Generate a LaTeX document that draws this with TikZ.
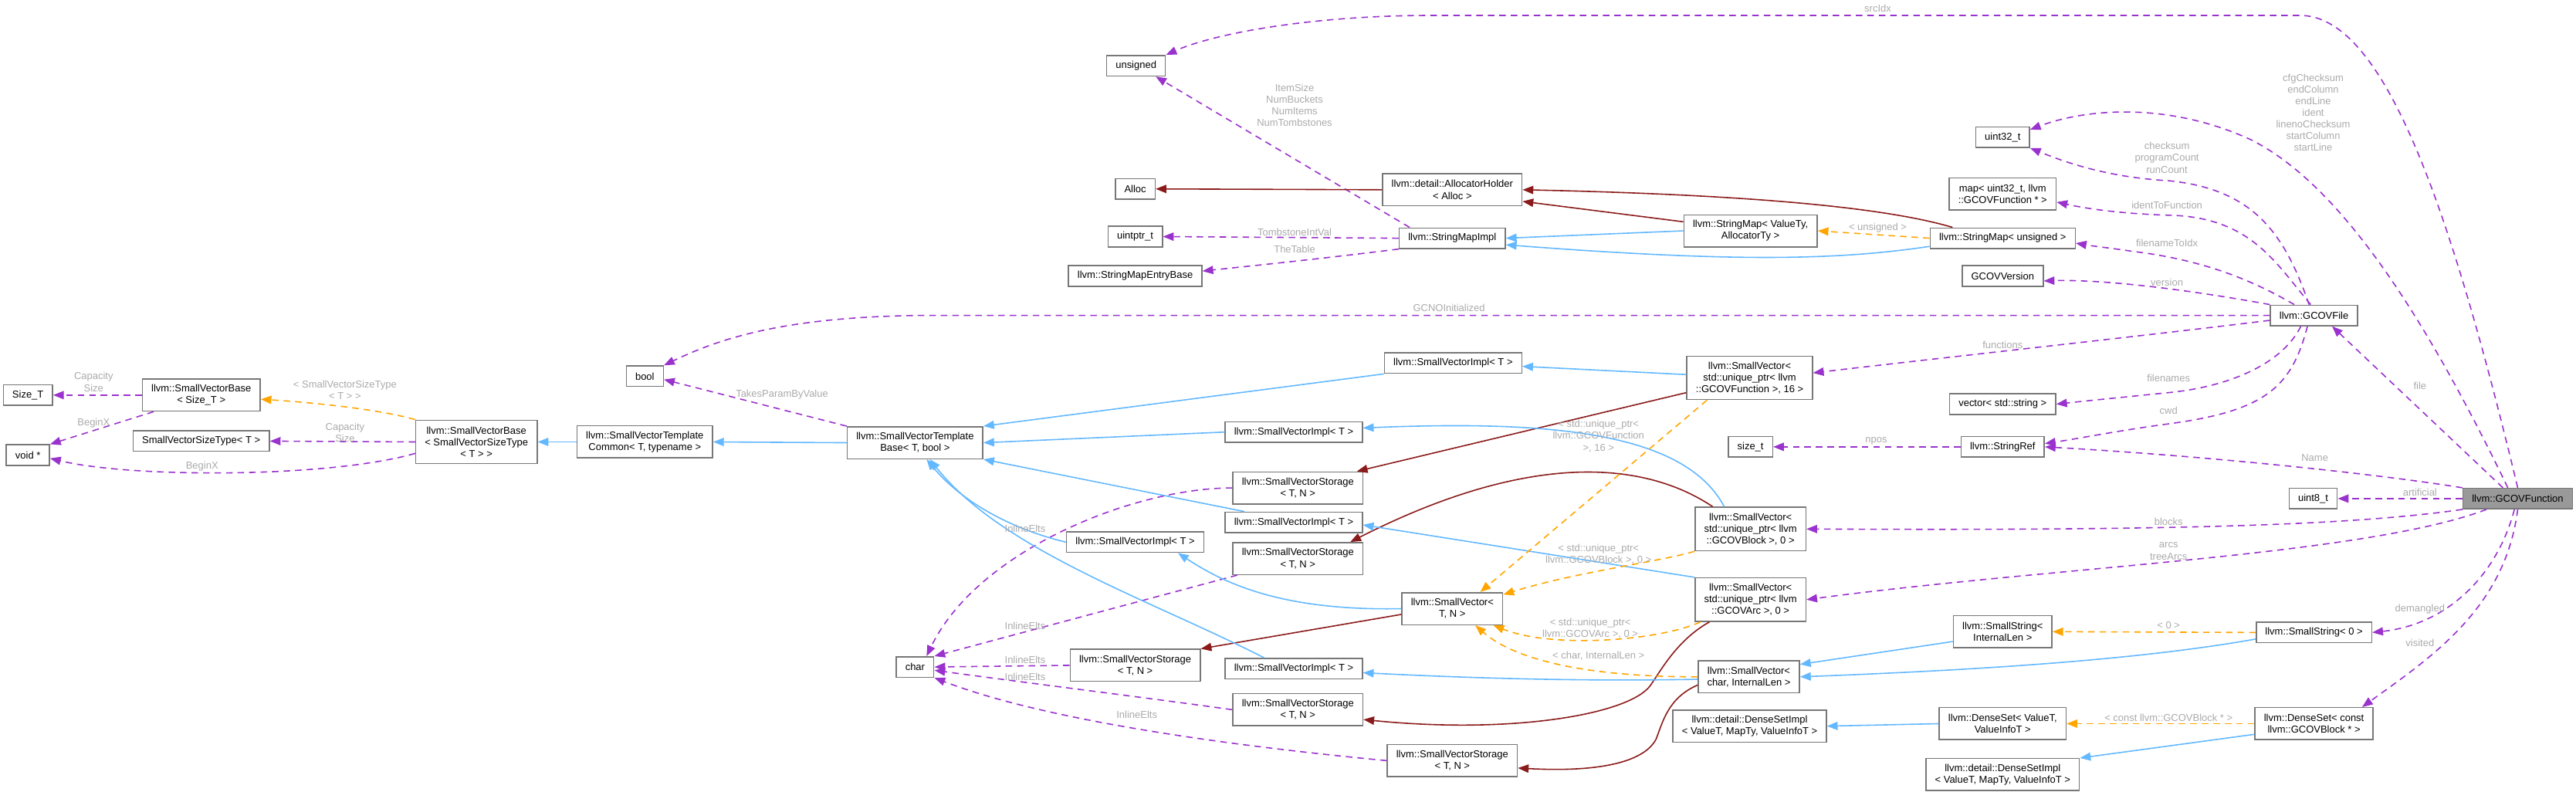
\documentclass[tikz,border=0pt]{standalone}
\usepackage{fontspec}
\newfontfamily\dxfont{Liberation Sans}
\usetikzlibrary{arrows.meta}
\definecolor{usecol}{HTML}{9A32CD}
\definecolor{inhcol}{HTML}{63B8FF}
\definecolor{privcol}{HTML}{8B1A1A}
\definecolor{tmplcol}{HTML}{FFA500}
\definecolor{boxcol}{HTML}{777777}
\definecolor{focuscol}{HTML}{999999}
\definecolor{lblcol}{HTML}{AAAAAA}
\tikzset{cls/.style = {draw=boxcol, fill=white, line width=0.7pt,
                       font=\dxfont\fontsize{6.1}{7.1}\selectfont, align=center,
                       inner xsep=5.5pt, inner ysep=1pt, minimum height=12.5pt}}
\tikzset{cls2/.style = {cls, minimum height=19.5pt}}
\tikzset{cls3/.style = {cls, minimum height=26.5pt}}
\tikzset{lbl/.style = {font=\dxfont\fontsize{6.1}{7.1}\selectfont, text=lblcol,
                       align=center, inner sep=0pt}}
\tikzset{tip/.style = {-{Triangle[length=6.5pt,width=5pt]}}}
\tikzset{use/.style = {usecol, line width=0.75pt, dash pattern=on 4pt off 3pt, tip}}
\tikzset{inh/.style = {inhcol, line width=0.75pt, tip}}
\tikzset{priv/.style = {privcol, line width=0.75pt, tip}}
\tikzset{tmpl/.style = {tmplcol, line width=0.75pt, dash pattern=on 4pt off 3pt, tip}}

\begin{document}
\begin{tikzpicture}[x=1pt, y=-1pt]
  \useasboundingbox (0,0) rectangle (1568,482);

  \node[cls, fill=focuscol] (gcovfunc) at (1532.5,303.5) {llvm::GCOVFunction};
  \node[cls] (gcovfile) at (1408.5,192) {llvm::GCOVFile};
  \node[cls] (unsig) at (691.5,40) {unsigned};
  \node[cls] (alloc) at (691,115) {Alloc};
  \node[cls] (uintptr) at (691,144) {uintptr\_t};
  \node[cls] (smentry) at (691,168) {llvm::StringMapEntryBase};
  \node[cls2] (allocholder) at (884,115.5) {llvm::detail::AllocatorHolder\\< Alloc >};
  \node[cls] (smimpl) at (884,145) {llvm::StringMapImpl};
  \node[cls2] (smvt) at (1065.5,140.5) {llvm::StringMap< ValueTy,\\AllocatorTy >};
  \node[cls] (smuns) at (1219,145) {llvm::StringMap< unsigned >};
  \node[cls] (uint32) at (1219,83.5) {uint32\_t};
  \node[cls2] (mapid) at (1219,118) {map< uint32\_t, llvm\\::GCOVFunction * >};
  \node[cls] (gcovver) at (1219,168) {GCOVVersion};

  \node[cls] (sizeT) at (17,240.5) {Size\_T};
  \node[cls2] (svbsize) at (122.5,240.5) {llvm::SmallVectorBase\\< Size\_T >};
  \node[cls] (voidp) at (17,277) {void *};
  \node[cls] (svsizetype) at (122.5,268.5) {SmallVectorSizeType< T >};
  \node[cls3] (svbsvst) at (290,269) {llvm::SmallVectorBase\\< SmallVectorSizeType\\< T > >};
  \node[cls2] (svtcommon) at (392.5,269) {llvm::SmallVectorTemplate\\Common< T, typename >};
  \node[cls] (boolt) at (392.5,229) {bool};
  \node[cls2] (svtbase) at (557,269.5) {llvm::SmallVectorTemplate\\Base< T, bool >};
  \node[cls] (chart) at (557,406) {char};

  \node[cls] (implA) at (884.5,221) {llvm::SmallVectorImpl< T >};
  \node[cls] (implB) at (787.5,263) {llvm::SmallVectorImpl< T >};
  \node[cls2] (storA) at (790,297) {llvm::SmallVectorStorage\\< T, N >};
  \node[cls] (implC) at (787.5,318) {llvm::SmallVectorImpl< T >};
  \node[cls2] (storB) at (790,340) {llvm::SmallVectorStorage\\< T, N >};
  \node[cls] (implD) at (691,330) {llvm::SmallVectorImpl< T >};
  \node[cls2] (svTN) at (884,370.5) {llvm::SmallVector<\\T, N >};
  \node[cls2] (storC) at (691,405) {llvm::SmallVectorStorage\\< T, N >};
  \node[cls] (implE) at (787.5,407) {llvm::SmallVectorImpl< T >};
  \node[cls2] (storD) at (790,432) {llvm::SmallVectorStorage\\< T, N >};
  \node[cls2] (storE) at (884,463) {llvm::SmallVectorStorage\\< T, N >};

  \node[cls3] (svfunc) at (1065,230) {llvm::SmallVector<\\std::unique\_ptr< llvm\\::GCOVFunction >, 16 >};
  \node[cls] (vecstr) at (1219,246) {vector< std::string >};
  \node[cls] (sizet) at (1065.5,272) {size\_t};
  \node[cls] (strref) at (1219,272) {llvm::StringRef};
  \node[cls] (uint8) at (1408,303.5) {uint8\_t};
  \node[cls3] (svblock) at (1065.5,322) {llvm::SmallVector<\\std::unique\_ptr< llvm\\::GCOVBlock >, 0 >};
  \node[cls3] (svarc) at (1065.5,365) {llvm::SmallVector<\\std::unique\_ptr< llvm\\::GCOVArc >, 0 >};
  \node[cls2] (ssil) at (1219,384.5) {llvm::SmallString<\\InternalLen >};
  \node[cls] (ss0) at (1408.5,385) {llvm::SmallString< 0 >};
  \node[cls2] (svchar) at (1064.5,412) {llvm::SmallVector<\\char, InternalLen >};
  \node[cls2] (dsimplA) at (1065,442) {llvm::detail::DenseSetImpl\\< ValueT, MapTy, ValueInfoT >};
  \node[cls2] (dsval) at (1219,440.5) {llvm::DenseSet< ValueT,\\ValueInfoT >};
  \node[cls2] (dsconst) at (1408.5,440.5) {llvm::DenseSet< const\\llvm::GCOVBlock * >};
  \node[cls2] (dsimplB) at (1219,471.5) {llvm::detail::DenseSetImpl\\< ValueT, MapTy, ValueInfoT >};

  \draw[use] (gcovfunc.north) .. controls (1490,120) and (1450,9.4) .. (1400,9.4) -- (871,9.4)
    .. controls (800,9.4) and (740,20) .. (unsig.north east);
  \draw[use] ([xshift=-6pt]gcovfunc.north) .. controls (1470,180) and (1420,110) .. (1370,85)
    .. controls (1320,62) and (1270,66) .. ([yshift=-2pt]uint32.north east);
  \draw[use] ([xshift=-3pt]gcovfile.north) .. controls (1390,140) and (1370,115) .. (1320,110)
    .. controls (1285,108) and (1260,100) .. (uint32.south east);
  \draw[use] ([xshift=-2pt]gcovfile.north) .. controls (1385,160) and (1370,132) .. (1320,131)
    .. controls (1290,130) and (1270,127) .. ([yshift=-5pt]mapid.east);
  \draw[use] ([xshift=-12pt]gcovfile.north) .. controls (1370,170) and (1340,158) .. (1298,153)
    .. controls (1285,151) and (1275,150) .. ([yshift=-3pt]smuns.east);
  \draw[use] (gcovfile.north west) .. controls (1330,176) and (1280,170) .. ([yshift=-3pt]gcovver.east);
  \draw[use] (gcovfile.west) -- (560,192) .. controls (480,193) and (440,205) .. (boolt.north east);
  \draw[use] ([yshift=-3pt]gcovfile.west) .. controls (1300,205) and (1180,218) .. ([yshift=3pt]svfunc.east);
  \draw[use] ([xshift=-8pt]gcovfile.south) .. controls (1390,220) and (1360,235) .. (1320,239)
    .. controls (1290,242) and (1270,244) .. (vecstr.east);
  \draw[use] ([xshift=-4pt]gcovfile.south) .. controls (1395,235) and (1380,250) .. (1320,258)
    .. controls (1290,262) and (1265,267) .. ([yshift=2pt]strref.east);
  \draw[use] ([xshift=-9pt]gcovfunc.north) -- ([xshift=11pt]gcovfile.south);
  \draw[use] (gcovfunc.north west) .. controls (1450,289) and (1350,278) .. (strref.east);
  \draw[use] (gcovfunc.west) -- (uint8.east);
  \draw[use] (gcovfunc.south west) .. controls (1430,320) and (1320,323) .. (svblock.east);
  \draw[use] ([xshift=-19pt]gcovfunc.south) .. controls (1440,338) and (1250,345) .. (svarc.east);
  \draw[use] ([xshift=-2pt]gcovfunc.south) .. controls (1520,350) and (1490,380) .. (ss0.east);
  \draw[use] (gcovfunc.south) .. controls (1525,370) and (1480,400) .. ([xshift=-7pt]dsconst.north east);
  \draw[use] (strref.west) -- (sizet.east);
  \draw[use] ([xshift=-26pt]smimpl.north) -- ([xshift=12pt]unsig.south);
  \draw[use] (smimpl.west) -- (uintptr.east);
  \draw[use] (smimpl.south west) .. controls (800,158) and (760,162) .. ([yshift=3pt]smentry.east);
  \draw[use] (svbsize.west) -- (sizeT.east);
  \draw[use] ([xshift=-29pt]svbsize.south) -- (voidp.north east);
  \draw[use] (svbsvst.west) -- (svsizetype.east);
  \draw[use] ([yshift=-7pt]svbsvst.west) .. controls (200,291) and (80,291) .. ([yshift=-2pt]voidp.east);
  \draw[use] (svtbase.north west) -- ([yshift=-2pt]boolt.east);
  \draw[use] (storA.west) .. controls (690,297) and (595,335) .. ([xshift=7pt]chart.north);
  \draw[use] ([xshift=3pt]storB.south west) -- (chart.north east);
  \draw[use] (storC.west) -- (chart.east);
  \draw[use] (storD.west) .. controls (700,425) and (620,415) .. ([yshift=-2pt]chart.east);
  \draw[use] (storE.west) .. controls (760,455) and (640,440) .. (chart.south east);

  \draw[priv] (allocholder.west) -- (alloc.east);
  \draw[priv] ([yshift=5.5pt]smvt.west) -- ([yshift=3pt]allocholder.south east);
  \draw[priv] ([xshift=14pt]smuns.north west) .. controls (1140,124) and (1040,118) .. (allocholder.east);
  \draw[priv] ([yshift=-9pt]svfunc.west) -- ([xshift=-4pt]storA.north east);
  \draw[priv] ([xshift=-23pt]svblock.north) .. controls (1000,280) and (930,275) .. ([xshift=-8pt]storB.north east);
  \draw[priv] ([yshift=-3.5pt]svTN.west) -- (storC.north east);
  \draw[priv] ([xshift=-25pt]svarc.south) .. controls (1020,390) and (1010,410) .. (1004,418)
    .. controls (990,435) and (920,447) .. ([yshift=-6pt]storD.east);
  \draw[priv] ([yshift=-5pt]svchar.west) .. controls (1015,425) and (1012,440) .. (1008,450)
    .. controls (1000,465) and (970,470) .. ([yshift=-4.5pt]storE.east);

  \draw[inh] (smvt.west) -- (smimpl.east);
  \draw[inh] ([yshift=-5pt]smuns.west) .. controls (1120,158) and (1060,160) .. ([yshift=-4pt]smimpl.east);
  \draw[inh] (svtcommon.west) -- (svbsvst.east);
  \draw[inh] (svtbase.west) -- (svtcommon.east);
  \draw[inh] (implA.south west) -- (svtbase.north east);
  \draw[inh] (implB.west) -- (svtbase.east);
  \draw[inh] ([xshift=-30pt]implC.north) -- (svtbase.south east);
  \draw[inh] (implD.west) .. controls (615,322) and (585,305) .. ([xshift=7pt]svtbase.south);
  \draw[inh] ([xshift=-18pt]implE.north) .. controls (700,365) and (610,335) .. ([xshift=9pt]svtbase.south);
  \draw[inh] ([yshift=2pt]svfunc.west) -- ([yshift=-2pt]implA.east);
  \draw[inh] ([xshift=-16pt]svblock.north) .. controls (1025,262) and (940,256) .. ([yshift=2.5pt]implB.east);
  \draw[inh] (svarc.north west) -- ([yshift=-1.5pt]implC.east);
  \draw[inh] (svTN.west) .. controls (780,372) and (745,355) .. ([xshift=26pt]implD.south);
  \draw[inh] ([yshift=-1.5pt]svchar.west) .. controls (950,415) and (880,412) .. ([yshift=-2.5pt]implE.east);
  \draw[inh] ([yshift=-6pt]ssil.west) -- ([yshift=-2.5pt]svchar.north east);
  \draw[inh] ([yshift=-4pt]ss0.west) .. controls (1300,402) and (1200,408) .. (svchar.east);
  \draw[inh] (dsval.west) -- (dsimplA.east);
  \draw[inh] ([yshift=-6.5pt]dsconst.west) -- (dsimplB.north east);

  \draw[tmpl] (smuns.west) -- (smvt.east);
  \draw[tmpl] (svbsvst.north west) .. controls (230,249) and (190,245) .. ([yshift=-2.5pt]svbsize.east);
  \draw[tmpl] ([xshift=-26pt]svfunc.south) -- ([xshift=17pt]svTN.north);
  \draw[tmpl] (svblock.south west) .. controls (1010,342) and (960,348) .. ([yshift=-1.5pt]svTN.north east);
  \draw[tmpl] ([xshift=-30.5pt]svarc.south) .. controls (1010,390) and (945,395) .. ([xshift=25pt]svTN.south);
  \draw[tmpl] (svchar.west) .. controls (960,412) and (920,400) .. ([xshift=14pt]svTN.south);
  \draw[tmpl] (ss0.west) -- (ssil.east);
  \draw[tmpl] (dsconst.west) -- (dsval.east);

  \node[lbl] (l-srcidx) at (1143,5) {srcIdx};
  \node[lbl] (l-cfg) at (1408,68.5) {cfgChecksum\\endColumn\\endLine\\ident\\linenoChecksum\\startColumn\\startLine};
  \node[lbl] (l-checksum) at (1319,96) {checksum\\programCount\\runCount};
  \node[lbl] (l-ident) at (1319,125) {identToFunction};
  \node[lbl] (l-fname) at (1319,148) {filenameToIdx};
  \node[lbl] (l-version) at (1319,172) {version};
  \node[lbl] (l-gcno) at (882,187.5) {GCNOInitialized};
  \node[lbl] (l-functions) at (1219,210) {functions};
  \node[lbl] (l-filenames) at (1320,230) {filenames};
  \node[lbl] (l-cwd) at (1320,250) {cwd};
  \node[lbl] (l-file) at (1473,235) {file};
  \node[lbl] (l-name) at (1409,278.5) {Name};
  \node[lbl] (l-artificial) at (1473,299.5) {artificial};
  \node[lbl] (l-blocks) at (1320,317.5) {blocks};
  \node[lbl] (l-arcs) at (1320,335.5) {arcs\\treeArcs};
  \node[lbl] (l-demangled) at (1473,371) {demangled};
  \node[lbl] (l-visited) at (1473,391.5) {visited};
  \node[lbl] (l-npos) at (1142,268.5) {npos};
  \node[lbl] (l-items) at (788,64) {ItemSize\\NumBuckets\\NumItems\\NumTombstones};
  \node[lbl] (l-tomb) at (788,141.5) {TombstoneIntVal};
  \node[lbl] (l-table) at (788,151.5) {TheTable};
  \node[lbl] (l-cap1) at (57,232.5) {Capacity\\Size};
  \node[lbl] (l-begin1) at (57,257.5) {BeginX};
  \node[lbl] (l-cap2) at (210,263.5) {Capacity\\Size};
  \node[lbl] (l-begin2) at (123,284) {BeginX};
  \node[lbl] (l-takes) at (476,240) {TakesParamByValue};
  \node[lbl] (l-inlA) at (624,322) {InlineElts};
  \node[lbl] (l-inlB) at (624,381) {InlineElts};
  \node[lbl] (l-inlC) at (624,401.5) {InlineElts};
  \node[lbl] (l-inlD) at (624,412) {InlineElts};
  \node[lbl] (l-inlE) at (692,435) {InlineElts};
  \node[lbl] (l-unsig) at (1143,138.5) {< unsigned >};
  \node[lbl] (l-svst) at (210,237.5) {< SmallVectorSizeType\\< T > >};
  \node[lbl] (l-upfunc) at (973,265.5) {< std::unique\_ptr<\\llvm::GCOVFunction\\>, 16 >};
  \node[lbl] (l-upblock) at (973,337.5) {< std::unique\_ptr<\\llvm::GCOVBlock >, 0 >};
  \node[lbl] (l-uparc) at (968,382.5) {< std::unique\_ptr<\\llvm::GCOVArc >, 0 >};
  \node[lbl] (l-charlen) at (973,399) {< char, InternalLen >};
  \node[lbl] (l-zero) at (1320,380.5) {< 0 >};
  \node[lbl] (l-constblk) at (1320,437) {< const llvm::GCOVBlock * >};
\end{tikzpicture}
\end{document}
